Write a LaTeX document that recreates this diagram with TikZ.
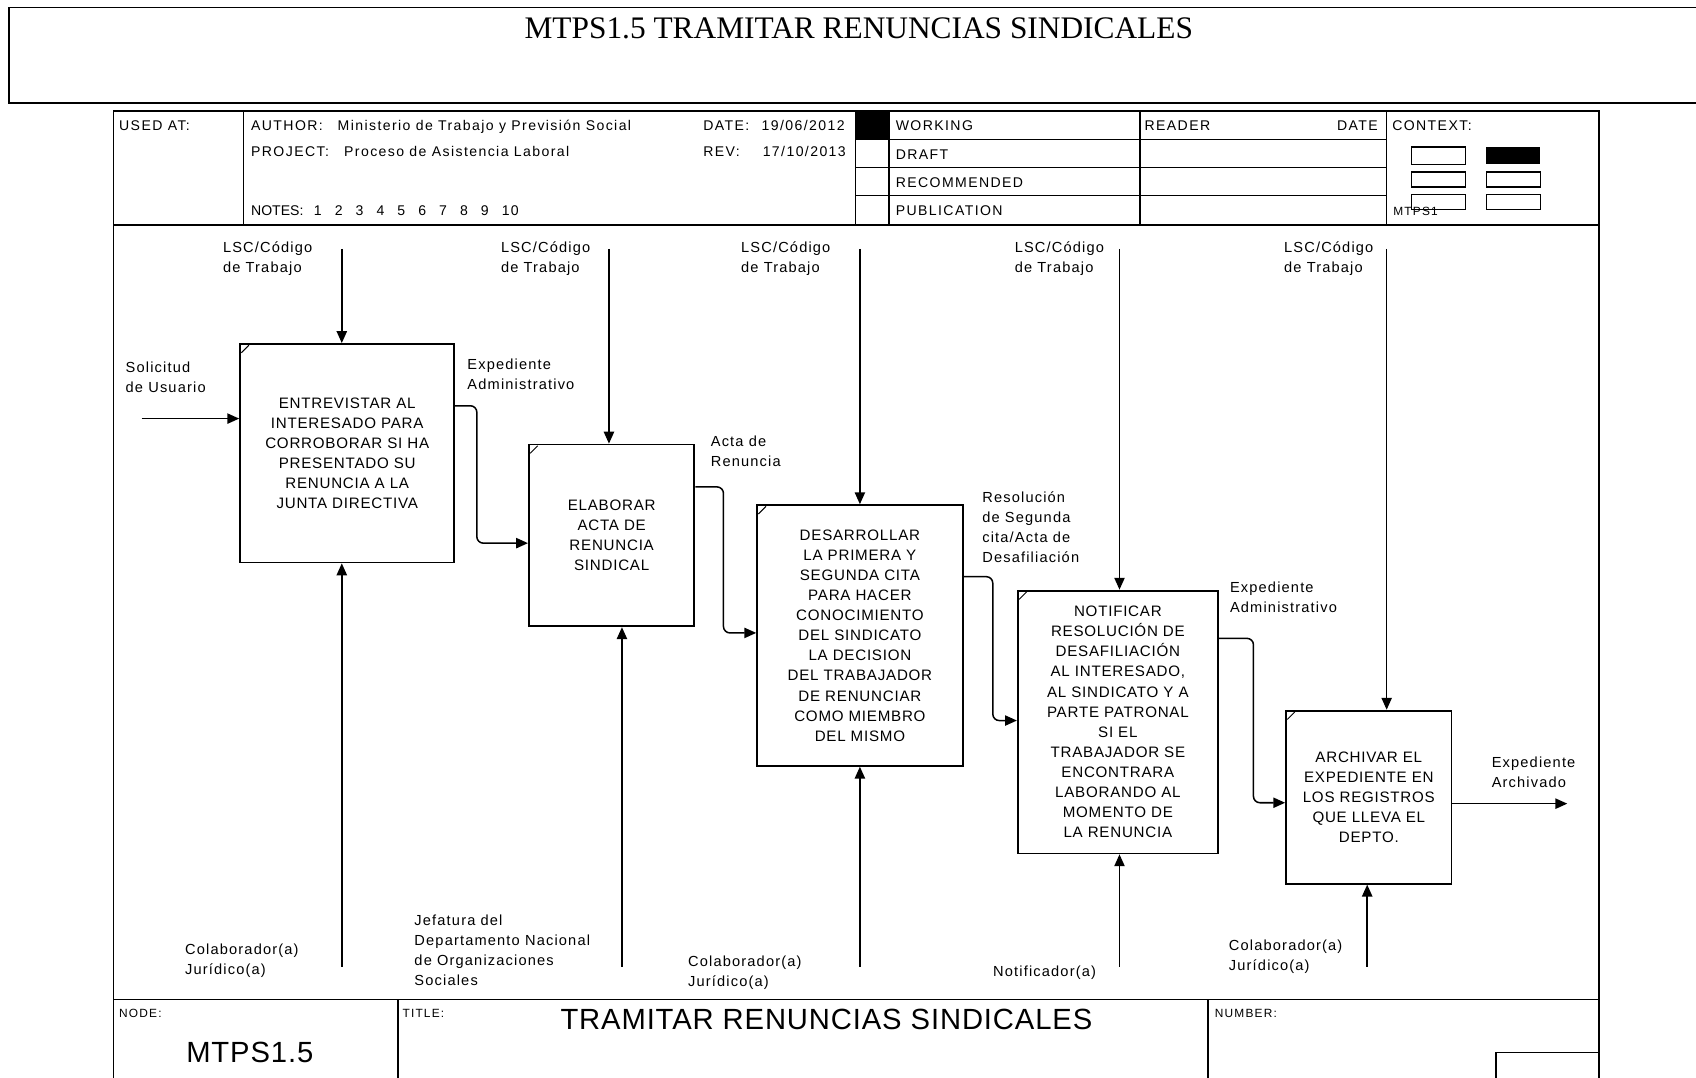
\documentclass[tikz,border=0pt]{standalone}
\usepackage{fontspec}
\setmainfont{Liberation Sans}
\newfontfamily\titlefont{Liberation Serif}
\newfontfamily\hdrfont[LetterSpace=10]{Liberation Sans}
\newfontfamily\lblfont[LetterSpace=8]{Liberation Sans}
\newfontfamily\boxfont[LetterSpace=5]{Liberation Sans}
\newfontfamily\bigfont[LetterSpace=3]{Liberation Sans}
\usetikzlibrary{arrows.meta,calc}
\begin{document}
\begin{tikzpicture}[x=1pt,y=-1pt,
  frame/.style={line width=1.7pt},
  rule/.style={line width=1.2pt},
  actbox/.style={draw, line width=1.7pt, inner sep=0pt, align=center,
    font=\boxfont\fontsize{14}{18.6}\selectfont},
  arr/.style={line width=1.4pt, -{Triangle[length=11pt,width=9.5pt]}},
  flow/.style={arr, rounded corners=6pt},
  % multi-line labels: the base anchor sits on the last line's baseline
  lbl/.style={anchor=base west, inner sep=0pt, align=left,
    font=\lblfont\fontsize{13.5}{18.5}\selectfont},
  hdr/.style={anchor=base west, inner sep=0pt, font=\hdrfont\fontsize{13}{15}\selectfont},
  tiny/.style={anchor=base west, inner sep=0pt, font=\hdrfont\fontsize{11}{13}\selectfont},
]
\useasboundingbox (0,0) rectangle (1568,996);

% ---------- title banner ----------
\draw[frame] (1580,7) -- (8,7) -- (8,95) -- (1580,95);
\node[anchor=base, inner sep=0pt, font=\titlefont\fontsize{29}{32}\selectfont] (banner) at (794,36)
  {MTPS1.5 TRAMITAR RENUNCIAS SINDICALES};

% ---------- form frame ----------
\draw[frame] (105,1005) -- (105,103) -- (1478,103) -- (1478,1005);
\draw[frame] (105,208) -- (1478,208);
\draw[frame] (105,924) -- (1478,924);

% header grid
\foreach \xx in {225,791,822,1054,1282} \draw[rule] (\xx,103) -- (\xx,208);
\foreach \yy in {129,155,181} \draw[rule] (791,\yy) -- (1282,\yy);
\fill (791,103) rectangle (822,129);

% header texts
\node[hdr] (usedat) at (110,121) {USED AT:};
\node[hdr] (author) at (232,121) {AUTHOR:};
\node[hdr] (authorv) at (312,121) {Ministerio de Trabajo y Previsión Social};
\node[hdr] (project) at (232,145) {PROJECT:};
\node[hdr] (projectv) at (318,145) {Proceso de Asistencia Laboral};
\node[hdr] (date) at (650,121) {DATE:};
\node[hdr] (datev) at (704,121) {19/06/2012};
\node[hdr] (rev) at (650,145) {REV:};
\node[hdr] (revv) at (705,145) {17/10/2013};
\node[hdr, font=\fontsize{13}{15}\selectfont] (notes) at (232,199) {NOTES:};
\foreach \n [count=\i] in {1,2,3,4,5,6,7,8,9,10}
  \node[hdr] (note\i) at ({270.7+19.3*\i},199) {\n};
\node[hdr] (working) at (828,121) {WORKING};
\node[hdr] (draft) at (828,147) {DRAFT};
\node[hdr] (recommended) at (828,173) {RECOMMENDED};
\node[hdr] (publication) at (828,199) {PUBLICATION};
\node[hdr] (reader) at (1058,121) {READER};
\node[hdr, anchor=base east] (rdate) at (1274,121) {DATE};
\node[hdr] (context) at (1287,121) {CONTEXT:};
\node[tiny] (ctxnode) at (1288,199) {MTPS1};

% context thumbnails
\draw[rule] (1305,136) rectangle (1355,152);
\fill (1374,136) rectangle (1424,152);
\draw[rule] (1305,159) rectangle (1355,173);
\draw[rule] (1374,159) rectangle (1424,173);
\draw[rule] (1305,180) rectangle (1355,194);
\draw[rule] (1374,180) rectangle (1424,194);

% footer
\draw[frame] (368,924) -- (368,1005);
\draw[frame] (1117,924) -- (1117,1005);
\draw[frame] (1383,1005) -- (1383,973) -- (1478,973);
\node[tiny] (nodelbl) at (110,941) {NODE:};
\node[tiny] (titlelbl) at (372,941) {TITLE:};
\node[tiny] (numberlbl) at (1123,941) {NUMBER:};
\node[anchor=base west, inner sep=0pt, font=\bigfont\fontsize{27}{30}\selectfont] (nodeid) at (172,982) {MTPS1.5};
\node[anchor=base west, inner sep=0pt, font=\bigfont\fontsize{27}{30}\selectfont] (ftitle) at (518,952) {TRAMITAR RENUNCIAS SINDICALES};

% ---------- activity boxes ----------
\node[actbox, minimum width=198pt, minimum height=202pt] (a1) at (321,419)
  {ENTREVISTAR AL\\INTERESADO PARA\\CORROBORAR SI HA\\PRESENTADO SU\\RENUNCIA A LA\\JUNTA DIRECTIVA};
\node[actbox, minimum width=153pt, minimum height=168pt] (a2) at (565.5,495)
  {ELABORAR\\ACTA DE\\RENUNCIA\\SINDICAL};
\node[actbox, minimum width=190pt, minimum height=241pt] (a3) at (795,587.5)
  {DESARROLLAR\\LA PRIMERA Y\\SEGUNDA CITA\\PARA HACER\\CONOCIMIENTO\\DEL SINDICATO\\LA DECISION\\DEL TRABAJADOR\\DE RENUNCIAR\\COMO MIEMBRO\\DEL MISMO};
\node[actbox, minimum width=185pt, minimum height=243pt] (a4) at (1033.5,667.5)
  {NOTIFICAR\\RESOLUCIÓN DE\\DESAFILIACIÓN\\AL INTERESADO,\\AL SINDICATO Y A\\PARTE PATRONAL\\SI EL\\TRABAJADOR SE\\ENCONTRARA\\LABORANDO AL\\MOMENTO DE\\LA RENUNCIA};
\node[actbox, minimum width=153pt, minimum height=160pt] (a5) at (1265.5,737)
  {ARCHIVAR EL\\EXPEDIENTE EN\\LOS REGISTROS\\QUE LLEVA EL\\DEPTO.};

% corner ticks
\foreach \b in {a1,a2,a3,a4,a5}
  \draw[line width=0.9pt] ($(\b.north west)+(2,9)$) -- ($(\b.north west)+(9,2)$);

% ---------- controls (top) ----------
\coordinate (c1) at (316,230);
\coordinate (c2) at (563,230);
\coordinate (c3) at (795,230);
\coordinate (c4) at (1035,230);
\coordinate (c5) at (1282,230);
\draw[arr] (c1) -- (c1 |- a1.north);
\draw[arr] (c2) -- (c2 |- a2.north);
\draw[arr] (c3) -- (c3 |- a3.north);
\draw[arr] (c4) -- (c4 |- a4.north);
\draw[arr] (c5) -- (c5 |- a5.north);
\foreach \xx/\nm in {206/lc1,463/lc2,685/lc3,938/lc4,1187/lc5}
  \node[lbl] (\nm) at (\xx,251.5) {LSC/Código\\de Trabajo};

% ---------- mechanisms (bottom) ----------
\coordinate (m1) at (316,894);
\coordinate (m2) at (575,894);
\coordinate (m3) at (795,894);
\coordinate (m4) at (1035,894);
\coordinate (m5) at (1264,894);
\draw[arr] (m1) -- (m1 |- a1.south);
\draw[arr] (m2) -- (m2 |- a2.south);
\draw[arr] (m3) -- (m3 |- a3.south);
\draw[arr] (m4) -- (m4 |- a4.south);
\draw[arr] (m5) -- (m5 |- a5.south);
\node[lbl] (lm1) at (171,900.5) {Colaborador(a)\\Jurídico(a)};
\node[lbl] (lm2) at (383,911.5) {Jefatura del\\Departamento Nacional\\de Organizaciones\\Sociales};
\node[lbl] (lm3) at (636,912) {Colaborador(a)\\Jurídico(a)};
\node[lbl] (lm4) at (918,903) {Notificador(a)};
\node[lbl] (lm5) at (1136,897.5) {Colaborador(a)\\Jurídico(a)};

% ---------- input ----------
\coordinate (in1) at (131,387);
\draw[arr] (in1) -- (in1 -| a1.west);
\node[lbl] (lin1) at (116,362.5) {Solicitud\\de Usuario};

% ---------- flows between activities ----------
\draw[flow] ($(a1.north east)+(0,58)$) -- ++(20,0) |- ($(a2.north west)+(0,92)$);
\draw[flow] ($(a2.north east)+(0,40)$) -- ++(26,0) |- ($(a3.north west)+(0,119)$);
\draw[flow] ($(a3.north east)+(0,67)$) -- ++(27,0) |- ($(a4.north west)+(0,121)$);
\draw[flow] ($(a4.north east)+(0,45)$) -- ++(32,0) |- ($(a5.north west)+(0,86)$);
\coordinate (out5) at (1449,743);
\draw[arr] (out5 -| a5.east) -- (out5);

\node[lbl] (lf1) at (432,360.5) {Expediente\\Administrativo};
\node[lbl] (lf2) at (657,431.5) {Acta de\\Renuncia};
\node[lbl] (lf3) at (908,520.5) {Resolución\\de Segunda\\cita/Acta de\\Desafiliación};
\node[lbl] (lf4) at (1137,566.5) {Expediente\\Administrativo};
\node[lbl] (lout) at (1379,728.5) {Expediente\\Archivado};
\end{tikzpicture}
\end{document}
